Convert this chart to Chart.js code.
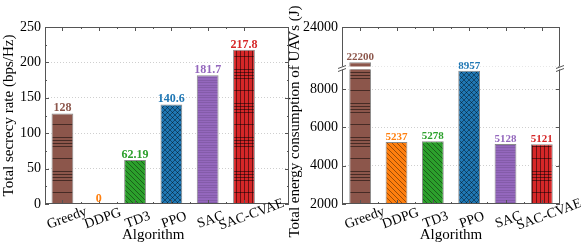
<!DOCTYPE html>
<html>
<head>
<meta charset="utf-8">
<script src="https://cdn.jsdelivr.net/npm/chart.js@4.4.1/dist/chart.umd.min.js"></script>
<style>
  html, body { margin: 0; padding: 0; background: #fff; }
  #wrap { position: relative; width: 581px; height: 249px; overflow: hidden; }
  #rateChart { position: absolute; left: 0; top: 0; }
  #energyChart { position: absolute; left: 284px; top: 0; }
</style>
</head>
<body>
<div id="wrap">
  <canvas id="rateChart" width="290" height="249"></canvas>
  <canvas id="energyChart" width="297" height="249"></canvas>
</div>
<script>
const algorithms = ['Greedy', 'DDPG', 'TD3', 'PPO', 'SAC', 'SAC-CVAE'];
const secrecyRate = [128, 0, 62.19, 140.6, 181.7, 217.8];
const energy = [22200, 5237, 5278, 8957, 5128, 5121];

const rateTicks = [0, 50, 100, 150, 200, 250];
const energyGridLow = [2000, 3000, 4000, 5000, 6000, 7000, 8000, 9000];
const energyLabelsLow = [2000, 4000, 6000, 8000];
const energyGridHigh = [22000, 23000, 24000];
const energyLabelsHigh = [24000];
const LOW_MAX = 9100, HIGH_MIN = 21900;   // ekseni kıran aralık

const colors = ['#8c564b', '#ff7f0e', '#2ca02c', '#1f77b4', '#9467bd', '#d62728'];
const kinds = ['hlines', 'diag', 'diag', 'cross', 'fine', 'grid'];

const SERIF = '"Liberation Serif", "Times New Roman", serif';
const Chart = window.Chart;
const byId = id => document.getElementById(id);

/* Origin tarzı desenli dolgu: küçük bir karo çizip tekrar ettir */
function hatch(color, kind) {
  const t = document.createElement('canvas');
  const w = (kind === 'hlines' || kind === 'grid') ? 4 : 5;
  const h = (kind === 'hlines' || kind === 'grid') ? 34 : 5;
  t.width = w; t.height = h;
  const g = t.getContext('2d');
  g.fillStyle = color; g.fillRect(0, 0, w, h);
  g.strokeStyle = 'rgba(0,0,0,.5)'; g.lineWidth = 1;
  const line = (x1, y1, x2, y2) => { g.beginPath(); g.moveTo(x1, y1); g.lineTo(x2, y2); g.stroke(); };
  if (kind === 'diag' || kind === 'cross') {
    g.lineWidth = 0.8;
    for (let k = -1; k <= 1; k++) line(k * w, 0, k * w + w, h);
    if (kind === 'cross') for (let k = -1; k <= 1; k++) line(k * w + w, 0, k * w, h);
  }
  if (kind === 'hlines' || kind === 'grid') {
    [1.5, 4.5, 7.5, 10.5, 22.5].forEach(y => line(0, y, w, y));
    if (kind === 'grid') line(0.5, 0, 0.5, h);
  }
  if (kind === 'fine') {
    g.strokeStyle = 'rgba(0,0,0,.1)';
    line(0, 0.5, w, 0.5); line(0, 2.5, w, 2.5);
  }
  return g.createPattern(t, 'repeat');
}
const fills = colors.map((c, i) => hatch(c, kinds[i]));

/* Çerçeve, içe dönük tikler, eksen kırılması, değer etiketleri, eğik kategori yazıları */
function decor(cfg) {
  return {
    id: 'decor',
    afterDatasetsDraw(chart) {
      const { ctx, chartArea: a, scales } = chart;
      const xs = scales.x;
      ctx.save();

      let yb = null;
      if (cfg.breakScale) {
        yb = scales[cfg.breakScale].bottom;
        ctx.fillStyle = '#fff';
        ctx.fillRect(a.left + 1, yb - 1.5, a.right - a.left - 2, 3);
      }

      ctx.strokeStyle = '#555'; ctx.lineWidth = 1;
      ctx.strokeRect(a.left + .5, a.top + .5, a.right - a.left - 1, a.bottom - a.top - 1);

      ctx.beginPath();
      cfg.xVals.forEach((v, i) => {
        const marks = [[v, 4]];
        if (i < cfg.xVals.length - 1) marks.push([v + .5, 2]);
        marks.forEach(([val, len]) => {
          const x = Math.round(xs.getPixelForValue(val)) + .5;
          ctx.moveTo(x, a.top); ctx.lineTo(x, a.top + len);
          ctx.moveTo(x, a.bottom); ctx.lineTo(x, a.bottom - len);
        });
      });
      cfg.yScales.forEach(id => {
        const s = scales[id];
        const tk = s.ticks;
        tk.forEach((t, k) => {
          const marks = [[t.value, t.label === '' ? 2 : 4]];
          if (cfg.halfMinor && k < tk.length - 1) marks.push([(t.value + tk[k + 1].value) / 2, 2]);
          marks.forEach(([val, len]) => {
            const y = Math.round(s.getPixelForValue(val)) + .5;
            ctx.moveTo(a.left, y); ctx.lineTo(a.left + len, y);
            ctx.moveTo(a.right, y); ctx.lineTo(a.right - len, y);
          });
        });
      });
      ctx.stroke();

      if (yb !== null) {
        [a.left, a.right].forEach(x => {
          ctx.fillStyle = '#fff';
          ctx.fillRect(x - 4, yb - 1.5, 8, 3);
          ctx.beginPath();
          ctx.moveTo(x - 4, yb + 0.5); ctx.lineTo(x + 4, yb - 2.5);
          ctx.moveTo(x - 4, yb + 3.5); ctx.lineTo(x + 4, yb + 0.5);
          ctx.stroke();
        });
      }

      ctx.font = 'bold ' + cfg.valueSize + 'px ' + SERIF;
      ctx.textAlign = 'center'; ctx.textBaseline = 'alphabetic';
      cfg.valueLabels.forEach(({ ds, i, text }) => {
        const el = chart.getDatasetMeta(ds).data[i];
        ctx.fillStyle = colors[i];
        ctx.fillText(text, el.x, el.y - 2);
      });

      ctx.fillStyle = '#000';
      ctx.font = '14px ' + SERIF;
      ctx.textBaseline = 'middle';
      cfg.xVals.forEach((v, i) => {
        const label = algorithms[i];
        const L = ctx.measureText(label).width;
        const x = xs.getPixelForValue(v);
        ctx.save();
        ctx.translate(x + 0.11 * L, a.bottom + 19.5 - 0.13 * L);
        ctx.rotate(-20 * Math.PI / 180);
        ctx.fillText(label, 0, 0);
        ctx.restore();
      });

      ctx.font = '15px ' + SERIF;
      const first = xs.getPixelForValue(cfg.xVals[0]);
      const last = xs.getPixelForValue(cfg.xVals[cfg.xVals.length - 1]);
      ctx.fillText('Algorithm', (first + last) / 2, a.bottom + 31);

      if (cfg.yTitle) {
        ctx.save();
        ctx.translate(cfg.yTitleX, (a.top + a.bottom) / 2 + 6);
        ctx.rotate(-Math.PI / 2);
        ctx.fillText(cfg.yTitle, 0, 0);
        ctx.restore();
      }
      ctx.restore();
    }
  };
}

const tickFont = { family: SERIF, size: 14 };
const hideAt = vals => c => (c.tick && vals.includes(c.tick.value)) ? 'rgba(0,0,0,0)' : '#cfcfcf';
const barStyle = { borderColor: '#8a8a8a', borderWidth: 1, barPercentage: 0.6, categoryPercentage: 1 };

new Chart(byId('rateChart'), {
  type: 'bar',
  data: {
    datasets: [Object.assign({
      data: secrecyRate.map((v, i) => ({ x: i + 1, y: v })),
      backgroundColor: fills
    }, barStyle)]
  },
  options: {
    responsive: false, animation: false, events: [],
    layout: { padding: { top: 27, right: 1 } },
    plugins: { legend: { display: false }, tooltip: { enabled: false } },
    scales: {
      x: {
        type: 'linear', min: 0.52, max: 7.24, offset: false,
        ticks: { display: false }, grid: { display: false }, border: { display: false },
        afterFit: s => { s.height = 45; }
      },
      y: {
        min: 0, max: 250,
        afterBuildTicks: s => { s.ticks = rateTicks.map(v => ({ value: v })); },
        ticks: { font: tickFont, color: '#000', padding: 4 },
        grid: { drawTicks: false, color: hideAt([0, 250]) },
        border: { display: false, dash: [1, 2] },
        title: { display: true, text: 'Total secrecy rate (bps/Hz)', font: { family: SERIF, size: 15 }, color: '#000', padding: { top: 0, bottom: 0 } },
        afterFit: s => { s.width = 45; }
      }
    }
  },
  plugins: [decor({
    xVals: algorithms.map((_, i) => i + 1),
    yScales: ['y'], halfMinor: true, valueSize: 12,
    valueLabels: secrecyRate.map((v, i) => ({ ds: 0, i, text: String(v) }))
  })]
});

new Chart(byId('energyChart'), {
  type: 'bar',
  data: {
    labels: algorithms,
    datasets: [
      Object.assign({ data: energy.map(v => Math.min(v, LOW_MAX)), yAxisID: 'yLow', grouped: false, backgroundColor: fills }, barStyle),
      Object.assign({ data: energy.map(v => v > LOW_MAX ? v : null), yAxisID: 'yHigh', grouped: false, backgroundColor: fills }, barStyle)
    ]
  },
  options: {
    responsive: false, animation: false, events: [],
    layout: { padding: { top: 27, right: 21 } },
    plugins: { legend: { display: false }, tooltip: { enabled: false } },
    scales: {
      x: {
        type: 'category', offset: true,
        ticks: { display: false }, grid: { display: false }, border: { display: false },
        afterFit: s => { s.height = 45; }
      },
      yLow: {
        position: 'left', stack: 'energy', stackWeight: 136,
        min: 2000, max: LOW_MAX,
        afterBuildTicks: s => { s.ticks = energyGridLow.map(v => ({ value: v })); },
        ticks: { font: tickFont, color: '#000', padding: 4, callback: v => energyLabelsLow.includes(v) ? String(v) : '' },
        grid: { drawTicks: false, color: hideAt([2000]) },
        border: { display: false, dash: [1, 2] },
        afterFit: s => { s.width = 58; }
      },
      yHigh: {
        position: 'left', stack: 'energy', stackWeight: 41,
        min: HIGH_MIN, max: 24000,
        afterBuildTicks: s => { s.ticks = energyGridHigh.map(v => ({ value: v })); },
        ticks: { font: tickFont, color: '#000', padding: 4, callback: v => energyLabelsHigh.includes(v) ? String(v) : '' },
        grid: { drawTicks: false, color: hideAt([24000]) },
        border: { display: false, dash: [1, 2] },
        afterFit: s => { s.width = 58; }
      }
    }
  },
  plugins: [decor({
    xVals: algorithms.map((_, i) => i),
    yScales: ['yLow', 'yHigh'], valueSize: 11, breakScale: 'yHigh',
    valueLabels: energy.map((v, i) => ({ ds: v > LOW_MAX ? 1 : 0, i, text: String(v) })),
    yTitle: 'Total energy consumption of UAVs (J)', yTitleX: 11
  })]
});
</script>
</body>
</html>
